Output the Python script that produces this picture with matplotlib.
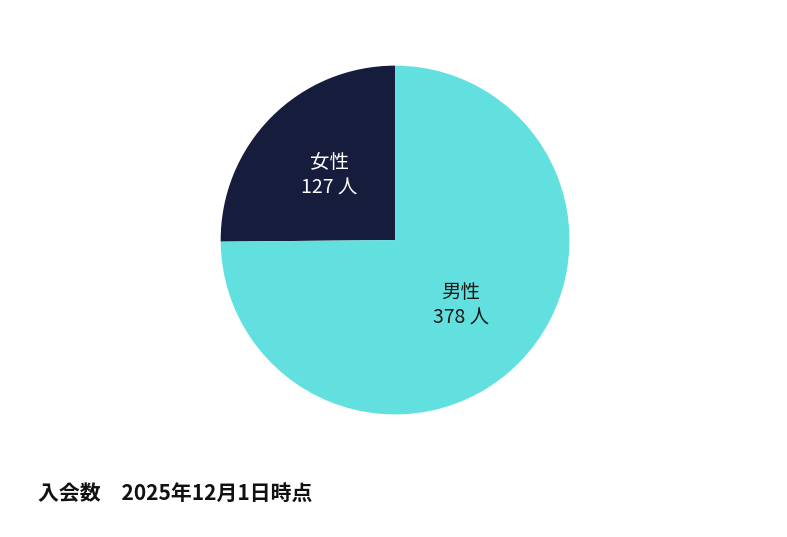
import matplotlib.pyplot as plt
import numpy as np

plt.rcParams['font.family'] = ['Noto Sans CJK JP', 'DejaVu Sans']

labels = ["女性", "男性"]
counts = [127, 378]
colors = ["#161c3b", "#62e0e0"]
text_colors = ["white", "#1a1a1a"]
title = "入会数　2025年12月1日時点"

fig = plt.figure(figsize=(7.87, 5.37), dpi=100)
ax = fig.add_axes([0.502 - 0.277, 0.553 - 0.406, 0.554, 0.812])
wedges, _ = ax.pie(counts, colors=colors, startangle=90, counterclock=True,
                   wedgeprops=dict(linewidth=0))
ax.set_aspect("equal")

for w, lab, n, tc in zip(wedges, labels, counts, text_colors):
    mid = np.deg2rad((w.theta1 + w.theta2) / 2)
    r = 0.53
    ax.text(r * np.cos(mid), r * np.sin(mid), f"{lab}\n{n} 人",
            ha="center", va="center", fontsize=14, color=tc, linespacing=1.3)

fig.text(38 / 787, 1 - 493 / 537, title, fontsize=15, fontweight="bold",
         ha="left", va="center", color="#111111")

fig.savefig("out.png", dpi=100, facecolor="white")
